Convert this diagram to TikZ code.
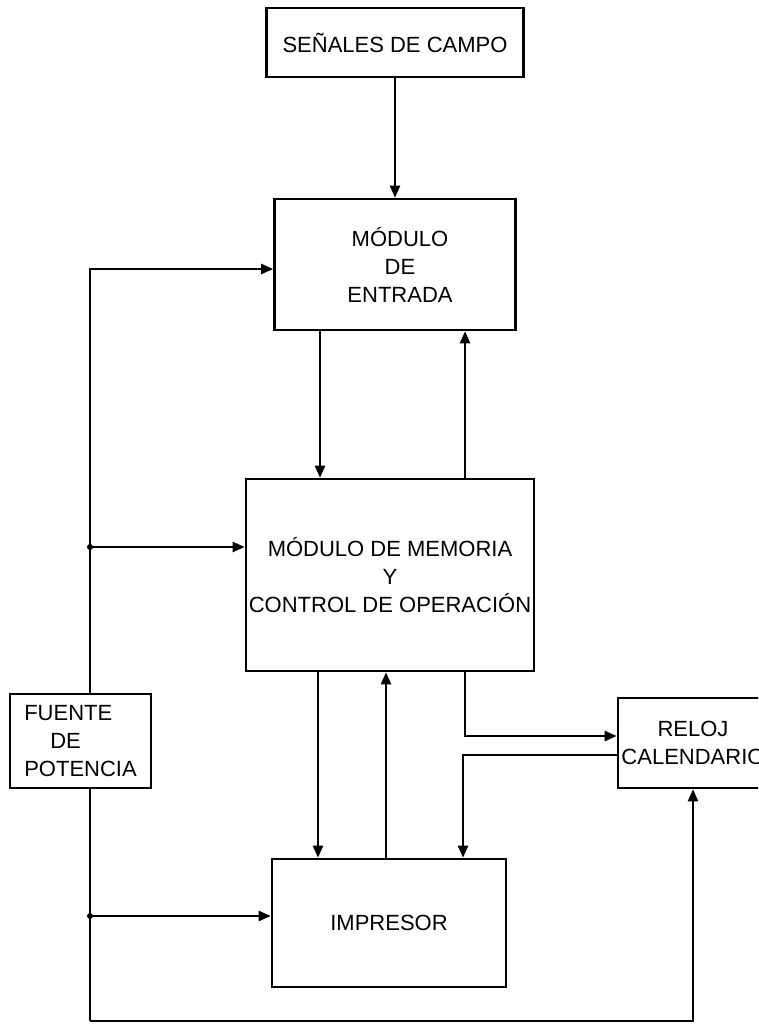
\documentclass[tikz,border=0pt]{standalone}
\usepackage{fontspec}
\setmainfont{Liberation Sans}
\usepackage{tikz}
\usetikzlibrary{arrows.meta}

\begin{document}
\begin{tikzpicture}[
  x=1pt,y=-1pt,
  bloque/.style={draw,line width=2.6pt,inner sep=0pt,align=center,
               font=\fontsize{22}{28}\selectfont},
  flecha/.style={-{Triangle[length=12pt,width=10pt]},line width=2.2pt},
  linea/.style={line width=2.2pt}
]
\useasboundingbox (0,0) rectangle (758,1027);
\clip (0,0) rectangle (758,1027);
% bloques
\node[bloque,minimum width=257pt,minimum height=69pt] (senales) at (395,42.5) {SEÑALES DE CAMPO};
\node[bloque,minimum width=241pt,minimum height=131pt] (entrada) at (395,264.5) {\hspace*{10pt}MÓDULO\\\hspace*{10pt}DE\\\hspace*{10pt}ENTRADA};
\node[bloque,minimum width=288pt,minimum height=192pt] (memoria) at (390,575) {MÓDULO DE MEMORIA\\Y\\CONTROL DE OPERACIÓN};
\node[bloque,minimum width=141pt,minimum height=94pt,align=left] (fuente) at (80.5,741) {FUENTE\\\hspace*{26pt}DE\\POTENCIA};
\node[bloque,minimum width=150pt,minimum height=90pt] (reloj) at (693,743) {RELOJ\\CALENDARIO};
\node[bloque,minimum width=234pt,minimum height=128pt] (impresor) at (389,923) {IMPRESOR};
% puntos de union
\coordinate (j1) at (90,547);
\coordinate (j2) at (90,916);
\coordinate (b1) at (90,1021);
\fill (j1) circle (3pt);
\fill (j2) circle (3pt);
% conexiones
\draw[flecha] (senales) -- (entrada);
\draw[flecha] (320,0 |- entrada.south) -- (320,0 |- memoria.north);
\draw[flecha] (465,0 |- memoria.north) -- (465,0 |- entrada.south);
\draw[flecha] (318,0 |- memoria.south) -- (318,0 |- impresor.north);
\draw[flecha] (386,0 |- impresor.north) -- (386,0 |- memoria.south);
\draw[flecha] (465,0 |- memoria.south) |- ([yshift=7pt]reloj.west);
\draw[flecha] ([yshift=-12pt]reloj.west) -| (463,0 |- impresor.north);
\draw[flecha] (90,0 |- fuente.north) |- (0,269 -| entrada.west);
\draw[flecha] (j1) -- (j1 -| memoria.west);
\draw[flecha] (j2) -- (j2 -| impresor.west);
\draw[linea] (90,0 |- fuente.south) -- (b1);
\draw[flecha] (b1) -| (reloj.south);
\end{tikzpicture}
\end{document}
